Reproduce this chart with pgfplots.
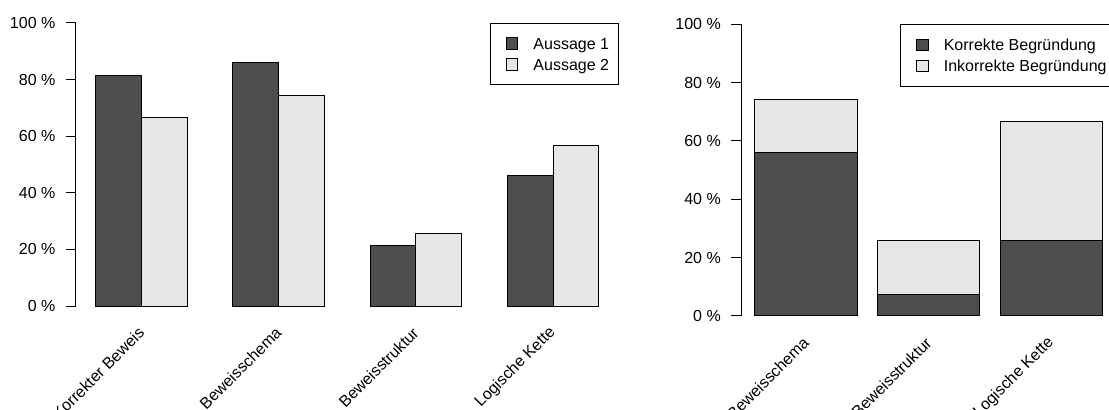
\documentclass[border=0pt]{standalone}
\usepackage{fontspec}
\setmainfont{Liberation Sans}
\usepackage{pgfplots}
\pgfplotsset{compat=1.18}
\definecolor{dunkel}{HTML}{4D4D4D}
\definecolor{hell}{HTML}{E6E6E6}
\pgfplotsset{
  rplot/.style={
    scale only axis,
    axis y line*=left, axis x line*=bottom,
    axis line style={-},
    x axis line style={draw=none},
    y axis line style={black, line width=0.75pt},
    ymin=0, ymax=100,
    ytick={0,20,...,100},
    yticklabels={0 \%,20 \%,40 \%,60 \%,80 \%,100 \%},
    tick align=outside,
    major tick length=7.5pt,
    ytick style={black, line width=0.75pt},
    xtick style={draw=none},
    tick label style={font=\fontsize{12}{14}\selectfont},
    yticklabel style={anchor=east, inner sep=0pt, xshift=-7.5pt},
    xticklabel style={yshift=-10.5pt, rotate=45, anchor=east, inner sep=0pt},
    legend cell align=left,
    legend style={at={(1,1)}, anchor=north east, draw=black, line width=0.75pt,
      inner xsep=7pt, inner ysep=10.4pt, row sep=6.2pt, column sep=11.25pt,
      nodes={inner sep=0pt, text height=8.6pt, text depth=0pt},
      font=\fontsize{12}{14}\selectfont},
  },
  rkey/.style={legend image code/.code={
    \path (0pt,0pt);
    \draw[##1, line width=0.75pt] (4.8pt,-4.4pt) rectangle (13.6pt,4.4pt);}},
  rbar/.style={draw=black, line width=0.75pt, fill=#1, rkey},
}
\begin{document}
\begin{tikzpicture}
\useasboundingbox (0,0) rectangle (831.75pt,307.5pt);

% links: Aussage 1 / Aussage 2
\begin{axis}[ybar, bar width=1, rplot,
    at={(56.7pt,78pt)}, anchor=south west,
    width=407.5pt, height=212.25pt,
    xmin=0.56, xmax=12.44,
    xtick={2,5,8,11},
    xticklabels={Korrekter Beweis,Beweisschema,Beweisstruktur,Logische Kette},
  ]
  \addplot[rbar=dunkel, bar shift=0pt] coordinates {(1.5,81.5) (4.5,86.1) (7.5,21.4) (10.5,46.2)};
  \addlegendentry{Aussage 1}
  \addplot[rbar=hell, bar shift=0pt] coordinates {(2.5,66.7) (5.5,74.4) (8.5,25.6) (11.5,56.8)};
  \addlegendentry{Aussage 2}
\end{axis}

% rechts: Begruendung, gestapelt
\begin{axis}[ybar stacked, bar width=1, rplot,
    at={(555.8pt,70.5pt)}, anchor=south west,
    width=281.5pt, height=218.8pt,
    xmin=0.064, xmax=3.736,
    xtick={0.7,1.9,3.1},
    xticklabels={Beweisschema,Beweisstruktur,Logische Kette},
  ]
  \addplot[rbar=dunkel] coordinates {(0.7,56.1) (1.9,7.5) (3.1,25.9)};
  \addlegendentry{Korrekte Begründung}
  \addplot[rbar=hell] coordinates {(0.7,18.2) (1.9,18.4) (3.1,40.7)};
  \addlegendentry{Inkorrekte Begründung}
\end{axis}
\end{tikzpicture}
\end{document}
